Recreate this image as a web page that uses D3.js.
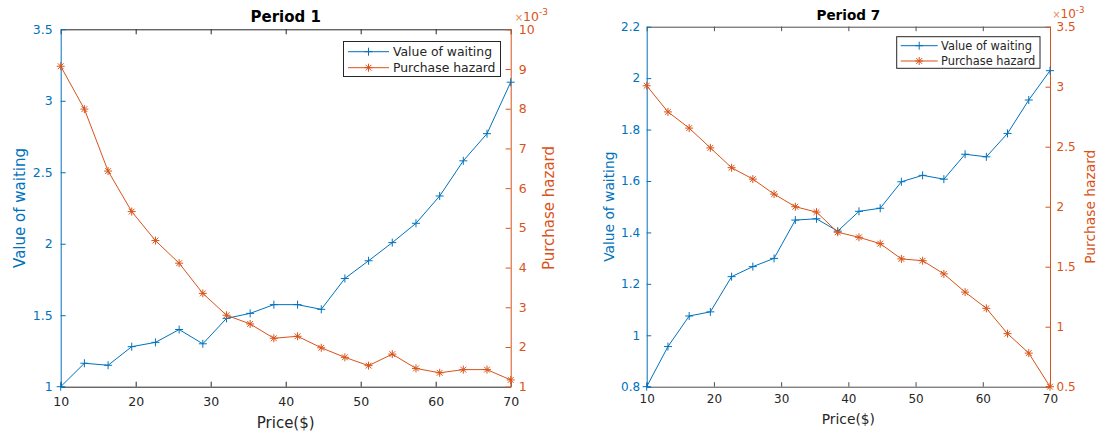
<!DOCTYPE html>
<html>
<head>
<meta charset="utf-8">
<script src="https://cdn.jsdelivr.net/npm/d3@7"></script>
<style>
  html, body { margin: 0; padding: 0; background: #fff; }
  svg { display: block; font-family: "DejaVu Sans", sans-serif; }
</style>
</head>
<body>
<svg id="fig" width="1099" height="434"></svg>
<script>
// Price grid shared by both panels ($)
const price = [10, 13.16, 16.32, 19.47, 22.63, 25.79, 28.95, 32.11, 35.26, 38.42,
               41.58, 44.74, 47.89, 51.05, 54.21, 57.37, 60.53, 63.68, 66.84, 70];
const priceTicks = [10, 20, 30, 40, 50, 60, 70];

// Period 1
const waitP1   = [1.00, 1.164, 1.150, 1.280, 1.310, 1.400, 1.300, 1.478, 1.513, 1.574,
                  1.574, 1.541, 1.757, 1.881, 2.008, 2.143, 2.334, 2.580, 2.770, 3.130];
const hazardP1 = [9.07, 7.99, 6.43, 5.41, 4.68, 4.11, 3.35, 2.80, 2.58, 2.22,
                  2.27, 1.98, 1.74, 1.53, 1.82, 1.46, 1.35, 1.43, 1.43, 1.17]; // ×10^-3
const waitTicksP1   = [1, 1.5, 2, 2.5, 3, 3.5];
const hazardTicksP1 = [1, 2, 3, 4, 5, 6, 7, 8, 9, 10];

// Period 7
const waitP7   = [0.800, 0.956, 1.075, 1.091, 1.228, 1.267, 1.299, 1.448, 1.453, 1.405,
                  1.482, 1.494, 1.597, 1.622, 1.607, 1.704, 1.694, 1.785, 1.915, 2.029];
const hazardP7 = [3.008, 2.790, 2.655, 2.490, 2.325, 2.230, 2.105, 2.000, 1.955, 1.787,
                  1.745, 1.692, 1.565, 1.550, 1.440, 1.288, 1.153, 0.942, 0.780, 0.500]; // ×10^-3
const waitTicksP7   = [0.8, 1, 1.2, 1.4, 1.6, 1.8, 2, 2.2];
const hazardTicksP7 = [0.5, 1, 1.5, 2, 2.5, 3, 3.5];

const seriesNames = ["Value of waiting", "Purchase hazard"];
const xLabel = "Price($)";

const BLUE = "#0072BD", ORANGE = "#D95319", INK = "#262626";

const svg = d3.select("#fig");

// '+' and '*' marker outlines centred on the origin
function plusPath(r) { return `M${-r},0H${r}M0,${-r}V${r}`; }
function starPath(r) {
  const d = r * 0.72;
  return `M${-r},0H${r}M0,${-r}V${r}M${-d},${-d}L${d},${d}M${-d},${d}L${d},${-d}`;
}

function drawPanel(p) {
  const g = svg.append("g");
  const x = d3.scaleLinear().domain([10, 70]).range([p.left, p.right]);
  const yL = d3.scaleLinear().domain(p.waitDomain).range([p.bottom, p.top]);
  const yR = d3.scaleLinear().domain(p.hazDomain).range([p.bottom, p.top]);
  const tick = p.tickLen;

  const styleAxis = (sel, color, fs) => {
    sel.attr("font-family", "DejaVu Sans, sans-serif").attr("font-size", fs);
    sel.selectAll(".domain").attr("stroke", color).attr("stroke-width", 1);
    sel.selectAll(".tick line").attr("stroke", color).attr("stroke-width", 1);
    sel.selectAll(".tick text").attr("fill", color);
  };

  // top box edge with inward ticks
  g.append("g").attr("transform", `translate(0,${p.top})`)
    .call(d3.axisTop(x).tickValues(priceTicks).tickSizeInner(-tick).tickSizeOuter(0).tickFormat(""))
    .call(s => styleAxis(s, p.boxColor, p.tickFont));

  // bottom price axis
  g.append("g").attr("transform", `translate(0,${p.bottom})`)
    .call(d3.axisBottom(x).tickValues(priceTicks).tickSizeInner(-tick).tickSizeOuter(0)
      .tickPadding(p.xPad).tickFormat(d => String(d)))
    .call(s => styleAxis(s, p.boxColor, p.tickFont))
    .call(s => s.selectAll(".tick text").attr("fill", INK));

  // left axis: value of waiting
  g.append("g").attr("transform", `translate(${p.left},0)`)
    .call(d3.axisLeft(yL).tickValues(p.waitTicks).tickSizeInner(-tick).tickSizeOuter(0)
      .tickPadding(p.yPad).tickFormat(d => String(d)))
    .call(s => styleAxis(s, BLUE, p.tickFont));

  // right axis: purchase hazard
  g.append("g").attr("transform", `translate(${p.right},0)`)
    .call(d3.axisRight(yR).tickValues(p.hazTicks).tickSizeInner(-tick).tickSizeOuter(0)
      .tickPadding(p.yPad).tickFormat(d => String(d)))
    .call(s => styleAxis(s, ORANGE, p.tickFont));

  // series
  const line = (yS, vals) => d3.line().x((d, i) => x(price[i])).y(d => yS(d))(vals);
  g.append("path").attr("d", line(yL, p.wait))
    .attr("fill", "none").attr("stroke", BLUE).attr("stroke-width", 1);
  g.selectAll(null).data(p.wait).join("path")
    .attr("transform", (d, i) => `translate(${x(price[i])},${yL(d)})`)
    .attr("d", plusPath(p.mark)).attr("fill", "none").attr("stroke", BLUE).attr("stroke-width", 1);

  g.append("path").attr("d", line(yR, p.haz))
    .attr("fill", "none").attr("stroke", ORANGE).attr("stroke-width", 1);
  g.selectAll(null).data(p.haz).join("path")
    .attr("transform", (d, i) => `translate(${x(price[i])},${yR(d)})`)
    .attr("d", starPath(p.mark)).attr("fill", "none").attr("stroke", ORANGE).attr("stroke-width", 1);

  // title
  g.append("text").attr("x", (p.left + p.right) / 2).attr("y", p.titleY)
    .attr("text-anchor", "middle").attr("font-weight", "bold").attr("font-size", p.titleFont)
    .attr("fill", "#000").text(p.title);

  // axis labels
  g.append("text").attr("x", (p.left + p.right) / 2).attr("y", p.xLabelY)
    .attr("text-anchor", "middle").attr("font-size", p.labelFont).attr("fill", INK).text(xLabel);
  g.append("text").attr("transform", `translate(${p.yLabelLX},${(p.top + p.bottom) / 2}) rotate(-90)`)
    .attr("text-anchor", "middle").attr("dy", "0.35em").attr("font-size", p.labelFont)
    .attr("fill", BLUE).text(seriesNames[0]);
  g.append("text").attr("transform", `translate(${p.yLabelRX},${(p.top + p.bottom) / 2}) rotate(-90)`)
    .attr("text-anchor", "middle").attr("dy", "0.35em").attr("font-size", p.labelFont)
    .attr("fill", ORANGE).text(seriesNames[1]);

  // exponent of the hazard axis
  const ex = g.append("text").attr("x", p.right + p.expDx).attr("y", p.expY).attr("fill", ORANGE)
    .attr("font-size", p.tickFont);
  ex.append("tspan").attr("font-size", p.tickFont * 0.8).attr("fill", "#e88a60").text("×");
  ex.append("tspan").text("10");
  ex.append("tspan").attr("font-size", p.tickFont * 0.72).attr("dy", -p.tickFont * 0.42).text("-3");

  // legend
  const L = p.legend;
  g.append("rect").attr("x", L.x0).attr("y", L.y0).attr("width", L.x1 - L.x0).attr("height", L.y1 - L.y0)
    .attr("fill", "#fff").attr("stroke", INK).attr("stroke-width", 1);
  [[BLUE, plusPath], [ORANGE, starPath]].forEach(([c, mk], k) => {
    const yy = L.rows[k];
    g.append("line").attr("x1", L.lx0).attr("x2", L.lx1).attr("y1", yy).attr("y2", yy)
      .attr("stroke", c).attr("stroke-width", 1);
    g.append("path").attr("transform", `translate(${(L.lx0 + L.lx1) / 2},${yy})`)
      .attr("d", mk(p.mark)).attr("fill", "none").attr("stroke", c).attr("stroke-width", 1);
    g.append("text").attr("x", L.tx).attr("y", yy).attr("dy", "0.36em")
      .attr("font-size", L.font).attr("fill", INK).text(seriesNames[k]);
  });
}

drawPanel({
  title: "Period 1", wait: waitP1, haz: hazardP1,
  waitDomain: [1, 3.5], hazDomain: [1, 10], waitTicks: waitTicksP1, hazTicks: hazardTicksP1,
  left: 60.7, right: 510.7, top: 29.3, bottom: 386.7,
  tickLen: 5, tickFont: 12.5, labelFont: 15, titleFont: 15, mark: 4,
  xPad: 10, yPad: 8, titleY: 21.5, xLabelY: 427.5, yLabelLX: 19.6, yLabelRX: 548.5,
  expDx: 4, expY: 20.5, boxColor: INK,
  legend: { x0: 343.5, x1: 500.5, y0: 41.5, y1: 76.5, rows: [51.7, 67.7], lx0: 348, lx1: 389, tx: 393, font: 12.4 }
});

drawPanel({
  title: "Period 7", wait: waitP7, haz: hazardP7,
  waitDomain: [0.8, 2.2], hazDomain: [0.5, 3.5], waitTicks: waitTicksP7, hazTicks: hazardTicksP7,
  left: 646.7, right: 1050, top: 26.7, bottom: 386.7,
  tickLen: 4.5, tickFont: 12, labelFont: 13.8, titleFont: 13.6, mark: 4,
  xPad: 8, yPad: 6.5, titleY: 19.5, xLabelY: 424, yLabelLX: 609, yLabelRX: 1090,
  expDx: 2.5, expY: 18.3, boxColor: "#4d4d4d",
  legend: { x0: 896.7, x1: 1040, y0: 36.7, y1: 68.3, rows: [45.7, 61], lx0: 900.7, lx1: 937.7, tx: 941, font: 11.4 }
});
</script>
</body>
</html>
